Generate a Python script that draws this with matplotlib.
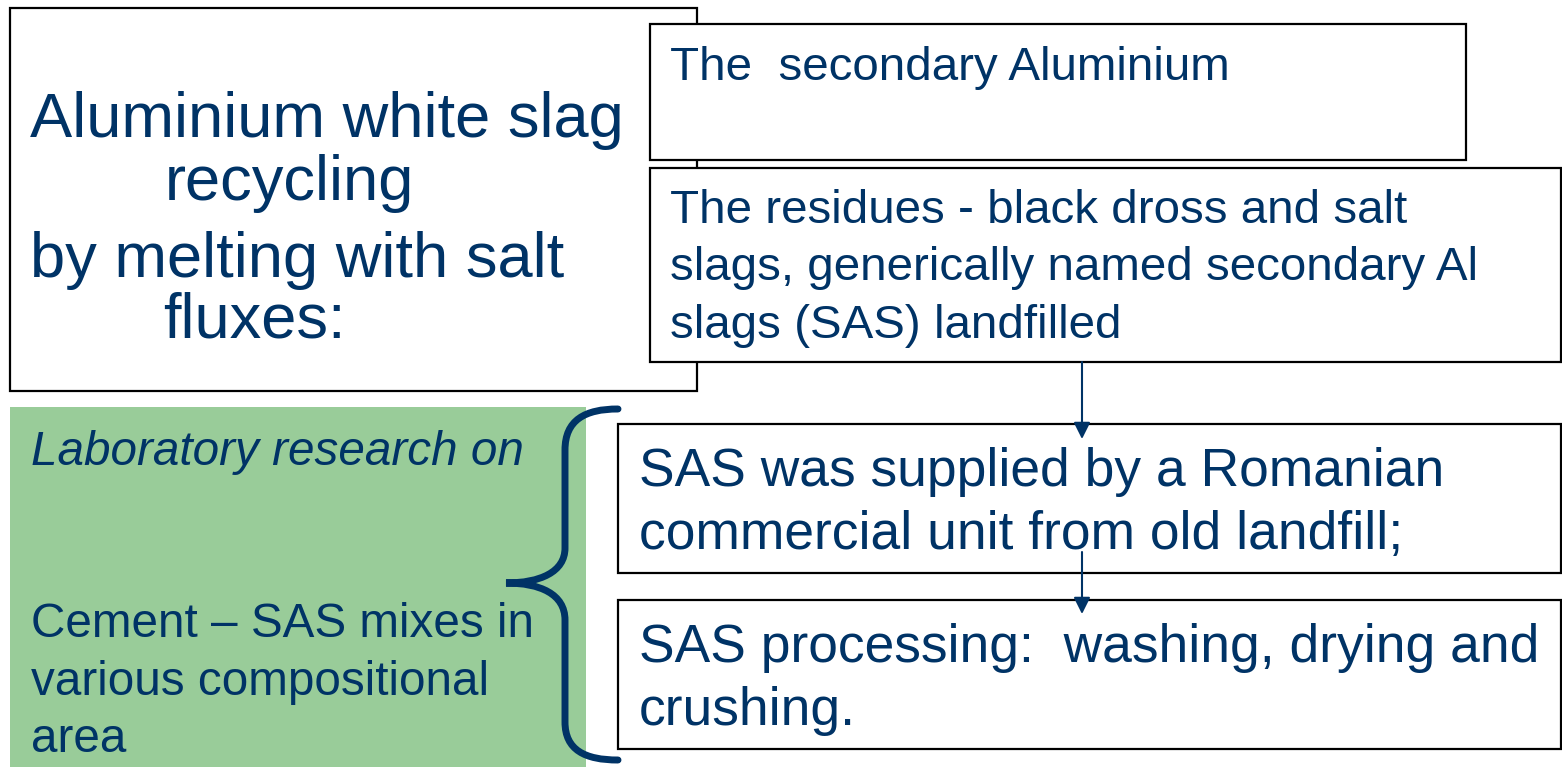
import matplotlib.pyplot as plt
from matplotlib.patches import Rectangle, PathPatch
from matplotlib.path import Path

plt.rcParams['font.family'] = ['Liberation Sans', 'DejaVu Sans']

NAVY = '#003366'
GREEN = '#99cc99'

# text of each box, one entry per line
title_lines = ["Aluminium white slag", "recycling", "by melting with salt", "fluxes:"]
product_lines = ["The  secondary Aluminium"]
residue_lines = ["The residues - black dross and salt",
                 "slags, generically named secondary Al",
                 "slags (SAS) landfilled"]
supply_lines = ["SAS was supplied by a Romanian",
                "commercial unit from old landfill;"]
process_lines = ["SAS processing:  washing, drying and", "crushing."]
lab_lines = ["Laboratory research on"]
mix_lines = ["Cement \u2013 SAS mixes in", "various compositional", "area"]

fig = plt.figure(figsize=(15.62, 7.67), dpi=100)
ax = fig.add_axes([0, 0, 1, 1])
ax.set_xlim(0, 1562)
ax.set_ylim(767, 0)
ax.axis('off')


def box(x0, y0, x1, y1, fc='white', ec='black', z=1):
    ax.add_patch(Rectangle((x0, y0), x1 - x0, y1 - y0, facecolor=fc,
                           edgecolor=ec, lw=1.6, zorder=z))


def lines(xs, ys, texts, size, style='normal'):
    for x, y, t in zip(xs, ys, texts):
        ax.text(x, y, t, color=NAVY, fontsize=size, style=style,
                va='baseline', ha='left', zorder=5)


# boxes
box(10, 8, 697, 391, z=1)
box(650, 24, 1466, 160, z=2)
box(650, 168, 1561, 362, z=2)
box(10, 407, 586, 767, fc=GREEN, ec='none', z=1)
box(618, 424, 1561, 573, z=2)
box(618, 600, 1561, 749, z=2)

lines([30, 165, 30, 163], [137, 200, 277, 337], title_lines, 45.5)
lines([670], [80], product_lines, 34.2)
lines([670] * 3, [223, 280, 338], residue_lines, 34.2)
lines([639] * 2, [486, 549], supply_lines, 38.4)
lines([639] * 2, [662, 725], process_lines, 38.4)
lines([31], [465], lab_lines, 34.3, style='italic')
lines([31] * 3, [637, 695, 752], mix_lines, 34.3)

# curly brace
verts = [(618, 409), (585, 409), (565, 420), (565, 450),
         (565, 548),
         (565, 572), (540, 583), (506, 583),
         (540, 583), (565, 594), (565, 620),
         (565, 722),
         (565, 750), (585, 760), (618, 760)]
codes = [Path.MOVETO, Path.CURVE4, Path.CURVE4, Path.CURVE4,
         Path.LINETO,
         Path.CURVE4, Path.CURVE4, Path.CURVE4,
         Path.CURVE4, Path.CURVE4, Path.CURVE4,
         Path.LINETO,
         Path.CURVE4, Path.CURVE4, Path.CURVE4]
ax.add_patch(PathPatch(Path(verts, codes), facecolor='none', edgecolor=NAVY,
                       lw=5, capstyle='round', zorder=4))

# arrows
for y0, y1 in [(362, 439), (552, 614)]:
    ax.annotate('', xy=(1082, y1), xytext=(1082, y0),
                arrowprops=dict(arrowstyle='-|>', color=NAVY, lw=1.5,
                                mutation_scale=25, shrinkA=0, shrinkB=0),
                zorder=6)

fig.savefig('out.png', dpi=100)
